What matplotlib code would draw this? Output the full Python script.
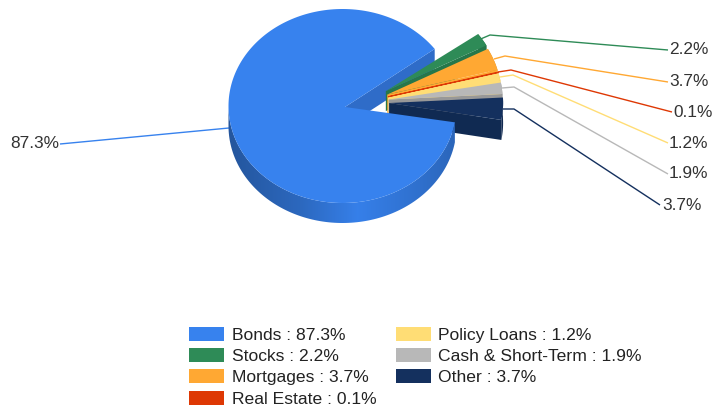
import matplotlib
matplotlib.use("Agg")
import matplotlib.pyplot as plt
from matplotlib.colors import to_rgb
from matplotlib.patches import Polygon, Rectangle
import numpy as np

plt.rcParams['font.family'] = ['Liberation Sans', 'DejaVu Sans']

# data
names = ['Bonds', 'Stocks', 'Mortgages', 'Real Estate', 'Policy Loans', 'Cash & Short-Term', 'Other']
values = [87.3, 2.2, 3.7, 0.1, 1.2, 1.9, 3.7]
colors = ['#3782ee', '#2e8b57', '#ffa833', '#de3804', '#ffdd75', '#b8b8b8', '#14305e']
explode = [0, 0.41, 0.41, 0.41, 0.41, 0.41, 0.41]
# colour under each exploded slice, where the next slice does not quite cover it
under = ['#2f6cc8', '#26774a', '#ffa833', '#ffdd75', '#ffdd75', '#989898', '#102a52']

# pie shape in pixels
cx, cy = 342.5, 106
rx, ry = 114, 97
depth = 20
start = -9.7

fig = plt.figure(figsize=(7.12, 4.11), dpi=100)
ax = fig.add_axes([0, 0, 1, 1])
ax.axis('off')


def shade(col, f):
    return tuple(c * f for c in to_rgb(col))


def arc(x0, y0, a, b, n=60):
    t = np.radians(np.linspace(a, b, n))
    return x0 + rx * np.cos(t), y0 - ry * np.sin(t)


def wall(x1, y1, x2, y2, col, z):
    ax.fill([x1, x2, x2, x1], [y1, y2, y2 + depth, y1 + depth], color=col, lw=0, zorder=z)


# angles run clockwise from start
edges = start - np.cumsum([0] + values) * 3.6

# exploded slices first, top one first so the lower ones cover it
for i in range(1, len(values)):
    a, b = edges[i] + 360, edges[i + 1] + 360
    mid = (a + b) / 2
    d = np.radians(mid * 0.5 + 6)
    x0 = cx + explode[i] * rx * np.cos(d)
    y0 = cy - explode[i] * ry * np.sin(d)
    xs, ys = arc(x0, y0, a, b, 12)
    z = 2 + i
    # outer rim
    ax.fill(np.r_[xs, xs[::-1]], np.r_[ys, ys[::-1] + depth], color=shade(colors[i], 0.85), lw=0, zorder=z)
    # lower cut face
    wall(x0, y0, xs[-1], ys[-1], under[i], z)
    # the thinnest slice would vanish without an outline
    ax.fill(np.r_[x0, xs], np.r_[y0, ys], fc=colors[i], ec=colors[i], lw=0.8 if values[i] < 1 else 0, zorder=z)

# bonds: back wall of the cut, rim with shading, then top face
a, b = edges[0], edges[1]
xs, ys = arc(cx, cy, a, b, 200)
apex_x = cx + 2.5
wall(apex_x, cy + 1, xs[-1], ys[-1], under[0], 1)

rxs, rys = arc(cx, cy, a, -180, 120)
rim = Polygon(np.c_[np.r_[rxs, rxs[::-1]], np.r_[rys, rys[::-1] + depth]], closed=True, fc='none', ec='none', zorder=10)
ax.add_patch(rim)
grad_x = np.arange(225, 460)
grad_f = np.interp(grad_x, [229, 300, 357, 420, 456], [0.66, 0.80, 0.98, 0.86, 0.78])
grad = np.outer(grad_f, to_rgb(colors[0]))[np.newaxis, :, :]
img = ax.imshow(grad, extent=[225, 460, 240, 90], aspect='auto', zorder=10, interpolation='bilinear')
img.set_clip_path(rim)
ax.fill(np.r_[apex_x, xs], np.r_[cy + 1, ys], color=colors[0], lw=0, zorder=11)

ax.set_xlim(0, 712)
ax.set_ylim(411, 0)

# leader lines and outside labels
leaders = [
    ([229, 60], [128, 144], 10, 143),
    ([476, 490, 668], [41, 35, 50], 669, 49),
    ([494, 505, 668], [59, 56, 82], 669, 82),
    ([498, 511, 672], [72, 70, 112], 673, 112),
    ([500, 513, 668], [77, 75, 143], 669, 143),
    ([502, 514, 668], [88, 87, 174], 669, 173),
    ([503, 514, 660], [109, 109, 205], 662, 205),
]
for i, (lx, ly, tx, ty) in enumerate(leaders):
    ax.plot(lx, ly, color=colors[i], lw=1, zorder=1.5, solid_capstyle='butt')
    ax.text(tx, ty, f'{values[i]}%', fontsize=12.4, color='#333333', va='center', ha='left', zorder=20)

# legend
rows = [334, 355, 376, 398]
for i, name in enumerate(names):
    col = 0 if i < 4 else 1
    y = rows[i] if i < 4 else rows[i - 4]
    sx = 189 if col == 0 else 396
    tx = 232 if col == 0 else 438
    ax.add_patch(Rectangle((sx, y - 7), 35, 14, color=colors[i], lw=0))
    ax.text(tx, y + 1, f'{name} : {values[i]}%', fontsize=12.6, color='#222222', va='center', ha='left')

fig.savefig('out.png', dpi=100)
